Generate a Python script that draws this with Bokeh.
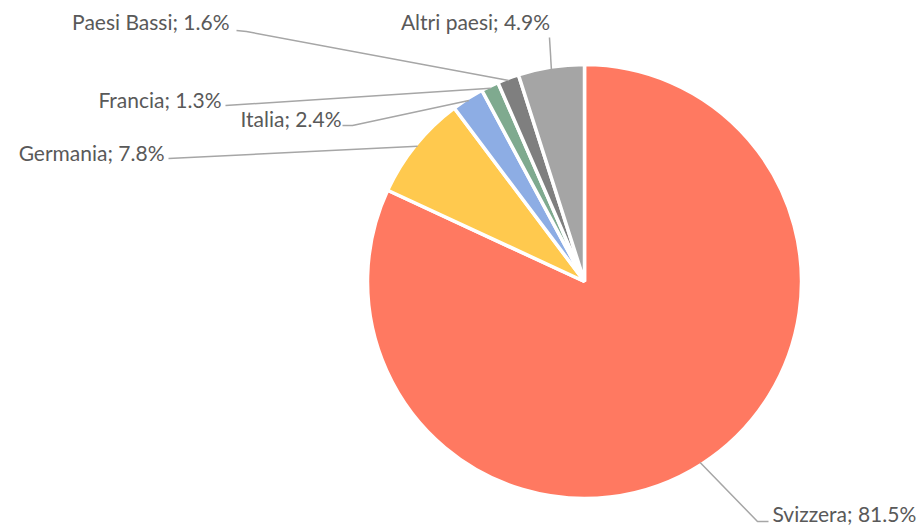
import math
from bokeh.plotting import figure
from bokeh.models import Range1d
from bokeh.core.properties import value
from bokeh.embed import file_html
from bokeh.resources import INLINE

# ---- data ----
countries = ["Svizzera", "Germania", "Italia", "Francia", "Paesi Bassi", "Altri paesi"]
shares = [81.5, 7.8, 2.4, 1.3, 1.6, 4.9]
colors = ["#FF7961", "#FFC94E", "#8DADE4", "#7FAA8F", "#7F7F7F", "#A5A5A5"]

# ---- layout (pixel space, y measured from top) ----
W, H = 924, 525
CX, CY, R = 584, 281, 217
# label anchor (x, y), alignment and leader elbow points
label_pos = [(772, 513), (164, 152), (341, 118), (221, 99), (229, 21), (475, 21)]
label_align = ["left", "right", "right", "right", "right", "center"]
leader_elbows = [
    [(768, 521), (757, 521)],
    [(168, 158)],
    [(342, 125), (352, 125)],
    [(225, 105)],
    [(236, 30), (246, 31)],
    [(549, 37)],
]

p = figure(width=W, height=H, output_backend="svg", toolbar_location=None,
           x_range=Range1d(0, W), y_range=Range1d(0, H), min_border=0)
p.axis.visible = False
p.grid.visible = False
p.outline_line_color = None
p.background_fill_color = "white"

total = sum(shares)
start = math.pi / 2
starts, ends, mids = [], [], []
for s in shares:
    ang = s / total * 2 * math.pi
    starts.append(start)
    ends.append(start - ang)
    mids.append(start - ang / 2)
    start -= ang

p.wedge(x=CX, y=H - CY, radius=R, start_angle=starts, end_angle=ends,
        direction="clock", fill_color=colors, line_color="white", line_width=3.5)

# leader lines
for i, m in enumerate(mids):
    ex = CX + R * 0.99 * math.cos(m)
    ey = CY - R * 0.99 * math.sin(m)
    pts = leader_elbows[i] + [(ex, ey)]
    p.line([q[0] for q in pts], [H - q[1] for q in pts], line_color="#A6A6A6", line_width=1.5)

labels = [f"{c}; {v:.1f}%" for c, v in zip(countries, shares)]
for i, t in enumerate(labels):
    p.text(x=[label_pos[i][0]], y=[H - label_pos[i][1]], text=[t],
           text_font=value("Lato"), text_font_size="21px", text_color="#595959",
           text_align=label_align[i], text_baseline="middle")

open("out.html", "w").write(file_html(p, INLINE))
